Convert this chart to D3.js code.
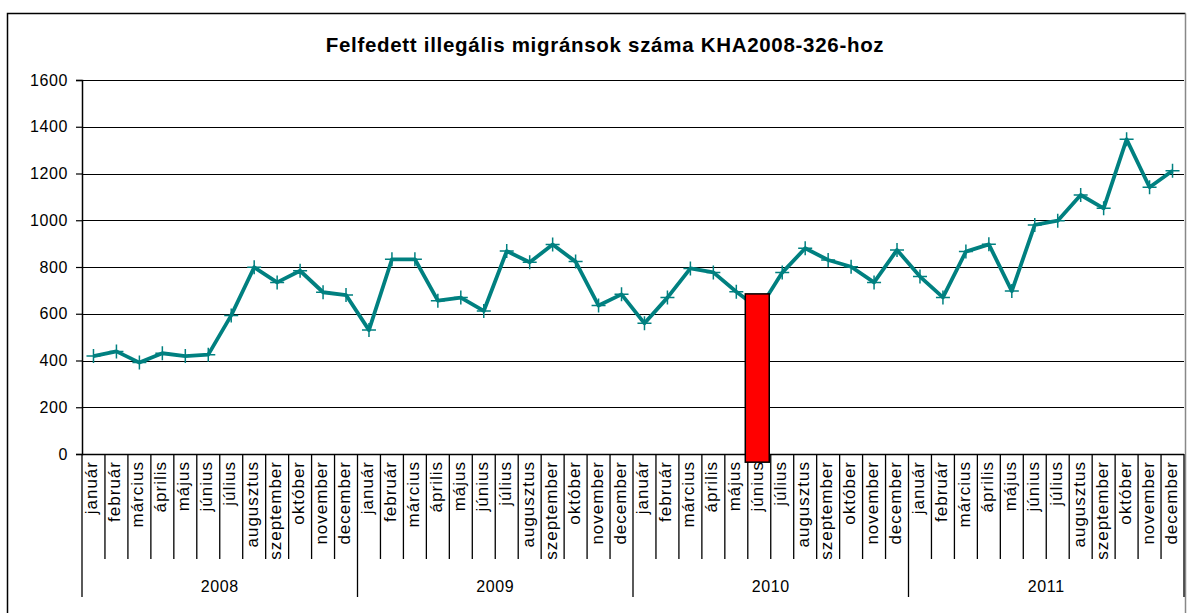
<!DOCTYPE html>
<html>
<head>
<meta charset="utf-8">
<script src="https://cdn.jsdelivr.net/npm/d3@7"></script>
<style>
  html, body { margin: 0; padding: 0; background: #fff; }
  svg { display: block; font-family: "Liberation Sans", Arial, sans-serif; }
</style>
</head>
<body>
<svg id="chart" width="1192" height="613"></svg>
<script>
const title = "Felfedett illegális migránsok száma KHA2008-326-hoz";
const years = ["2008", "2009", "2010", "2011"];
const months = ["január", "február", "március", "április", "május", "június",
                "július", "augusztus", "szeptember", "október", "november", "december"];
const values2008 = [419, 439, 391, 431, 419, 425, 593, 799, 734, 784, 692, 680];
const values2009 = [530, 833, 833, 656, 669, 612, 868, 820, 896, 823, 635, 683];
const values2010 = [559, 669, 794, 777, 694, 620, 776, 880, 830, 801, 734, 873];
const values2011 = [759, 670, 866, 897, 697, 980, 998, 1108, 1051, 1346, 1141, 1212];
const yTicks = [0, 200, 400, 600, 800, 1000, 1200, 1400, 1600];
const highlightYear = "2010";
const highlightMonth = "június";
const highlightRange = [-35, 685];

const valuesByYear = { "2008": values2008, "2009": values2009, "2010": values2010, "2011": values2011 };
const data = [];
years.forEach(y => months.forEach((m, i) => data.push({ key: y + "-" + m, year: y, month: m, value: valuesByYear[y][i] })));

const svg = d3.select("#chart");
const L = 82, R = 1184, T = 80, B = 454;

const x = d3.scaleBand().domain(data.map(d => d.key)).range([L, R]).padding(0);
const y = d3.scaleLinear().domain([0, 1600]).range([B, T]);

// outer frame
svg.append("path").attr("d", `M7.5,640 V13.5 H1185.5`).attr("fill", "none").attr("stroke", "#000").attr("stroke-width", 1.5);
svg.append("line").attr("x1", 1185.5).attr("x2", 1185.5).attr("y1", 13.5).attr("y2", 640).attr("stroke", "#888").attr("stroke-width", 1.5);

// title
svg.append("text").attr("x", 605).attr("y", 52).attr("text-anchor", "middle")
  .attr("font-size", 20.5).attr("font-weight", "bold").attr("letter-spacing", 0.7).text(title);

// gridlines
svg.append("g").selectAll("line").data(yTicks.filter(t => t > 0)).join("line")
  .attr("x1", L).attr("x2", R).attr("y1", d => Math.round(y(d)) + 0.5).attr("y2", d => Math.round(y(d)) + 0.5)
  .attr("stroke", "#000").attr("stroke-width", 1);

// y axis
const yAxis = d3.axisLeft(y).tickValues(yTicks).tickSize(6).tickFormat(d3.format("d"));
const gy = svg.append("g").attr("transform", `translate(${L},0)`).call(yAxis);
gy.select(".domain").attr("stroke", "#000").attr("stroke-width", 1.5);
gy.selectAll(".tick line").attr("stroke", "#000").attr("stroke-width", 1.2);
gy.selectAll(".tick text").attr("font-size", 16).attr("letter-spacing", 0.6).attr("fill", "#000")
  .attr("x", -14).attr("font-family", "Liberation Sans, Arial, sans-serif");

// x axis baseline
svg.append("line").attr("x1", L).attr("x2", R).attr("y1", B + 0.5).attr("y2", B + 0.5).attr("stroke", "#000").attr("stroke-width", 1.5);

// month separators
const monthBounds = data.map(d => x(d.key)).concat([R]);
svg.append("g").selectAll("line").data(monthBounds).join("line")
  .attr("x1", d => d).attr("x2", d => d)
  .attr("y1", B)
  .attr("y2", (d, i) => (i % 12 === 0) ? 597 : 559)
  .attr("stroke", "#000").attr("stroke-width", 1.3);

// month labels
svg.append("g").selectAll("text").data(data).join("text")
  .attr("transform", d => `translate(${x(d.key) + x.bandwidth() / 2 + 4},461) rotate(-90)`)
  .attr("text-anchor", "end").attr("font-size", 17).attr("letter-spacing", 1)
  .text(d => d.month);

// year labels
svg.append("g").selectAll("text").data(years).join("text")
  .attr("x", yr => (x(yr + "-" + months[0]) + x(yr + "-" + months[11]) + x.bandwidth()) / 2)
  .attr("y", 592).attr("text-anchor", "middle").attr("font-size", 16).attr("letter-spacing", 0.6)
  .text(yr => yr);

// line
const line = d3.line().x(d => x(d.key) + x.bandwidth() / 2).y(d => y(d.value));
svg.append("path").datum(data).attr("d", line)
  .attr("fill", "none").attr("stroke", "#008080").attr("stroke-width", 3.8).attr("stroke-linejoin", "round");

// plus markers
const ms = 7;
svg.append("g").selectAll("path").data(data).join("path")
  .attr("d", d => {
    const cx = x(d.key) + x.bandwidth() / 2, cy = y(d.value);
    return `M${cx - ms},${cy}H${cx + ms}M${cx},${cy - ms}V${cy + ms}`;
  })
  .attr("stroke", "#008080").attr("stroke-width", 1.5).attr("fill", "none");

// highlight bar
const hk = highlightYear + "-" + highlightMonth;
svg.append("rect")
  .attr("x", x(hk) - 2.5).attr("width", x.bandwidth() + 1)
  .attr("y", y(highlightRange[1])).attr("height", y(highlightRange[0]) - y(highlightRange[1]))
  .attr("fill", "#ff0000").attr("stroke", "#000").attr("stroke-width", 1.5);
</script>
</body>
</html>
